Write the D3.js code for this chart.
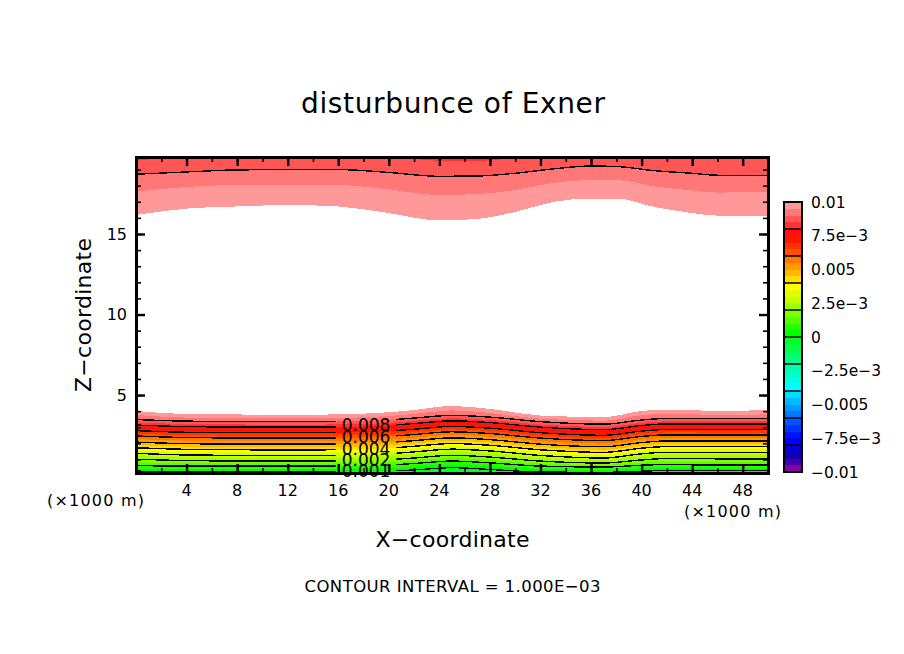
<!DOCTYPE html>
<html><head><meta charset="utf-8">
<script src="https://cdn.jsdelivr.net/npm/d3@7"></script>
<style>html,body{margin:0;padding:0;background:#fff}svg{display:block}text{font-family:"DejaVu Sans",sans-serif;fill:#000}</style>
</head><body><div id="c"></div><script>
const title="disturbunce of Exner", xTitle="X\u2212coordinate", zTitle="Z\u2212coordinate", footer="CONTOUR INTERVAL = 1.000E\u221203", unit="(\u00d71000 m)";
const xTicks=[4,8,12,16,20,24,28,32,36,40,44,48];
const xMinor=d3.range(2,50,2);
const zTicks=[5,10,15];
const zMinor=d3.range(1,20);
const barTickValues=[0.01,0.0075,0.005,0.0025,0,-0.0025,-0.005,-0.0075,-0.01];
const barTickLabels=["0.01","7.5e\u22123","0.005","2.5e\u22123","0","\u22122.5e\u22123","\u22120.005","\u22127.5e\u22123","\u22120.01"];
const barColors=["#ff9999","#ff7777","#ff5555","#ff3333","#ff1111","#ff1500","#ff3300","#ff5000","#ff7700","#ff9900","#ffbb00","#ffdd00","#ffff00","#ddff00","#c4ff00","#a0ff00","#80ff00","#55ff00","#2aff00","#00ff00","#00ff22","#00ff44","#00ff66","#00ff88","#00ffaa","#00ffc8","#00ffe4","#00ffff","#00ddff","#00bbff","#0099ff","#0077ff","#0055ff","#0033ff","#0015ff","#0000ff","#0000dd","#1100b0","#4400aa","#8800aa"];

// lower layer: height of each Exner level at these x stations
const lowX=[0,4,9,15,19,22,25,28,32,37,40,42,46,50];
const L100=[4.01,3.82,3.79,3.79,3.88,4.07,4.32,4.14,3.73,3.63,4.01,4.10,4.01,4.07];
const L095=[3.76,3.60,3.57,3.57,3.65,3.83,4.05,3.88,3.53,3.41,3.75,3.85,3.76,3.80];
const L090=[3.48,3.38,3.35,3.35,3.41,3.57,3.74,3.63,3.35,3.19,3.45,3.55,3.54,3.54];
const L085=[3.30,3.20,3.17,3.17,3.23,3.39,3.56,3.45,3.17,3.01,3.27,3.37,3.36,3.36];
const L080=[3.14,3.04,3.01,3.01,3.07,3.23,3.40,3.29,3.01,2.85,3.11,3.21,3.20,3.20];
const L075=[2.96,2.86,2.83,2.83,2.89,3.05,3.22,3.11,2.83,2.67,2.93,3.03,3.02,3.02];
const L070=[2.79,2.69,2.66,2.66,2.72,2.88,3.05,2.94,2.66,2.50,2.76,2.86,2.85,2.85];
const L065=[2.61,2.51,2.48,2.48,2.54,2.70,2.87,2.76,2.48,2.32,2.58,2.68,2.67,2.67];
const L060=[2.46,2.36,2.33,2.33,2.39,2.55,2.72,2.61,2.33,2.17,2.43,2.53,2.52,2.52];
const L055=[2.27,2.17,2.14,2.14,2.20,2.36,2.53,2.42,2.14,1.98,2.24,2.34,2.33,2.33];
const L050=[2.08,1.98,1.95,1.95,2.01,2.17,2.34,2.23,1.95,1.79,2.05,2.15,2.14,2.14];
const L045=[1.90,1.80,1.77,1.77,1.83,1.99,2.16,2.05,1.77,1.61,1.87,1.97,1.96,1.96];
const L040=[1.73,1.63,1.60,1.60,1.66,1.82,1.99,1.88,1.60,1.44,1.70,1.80,1.79,1.79];
const L035=[1.56,1.46,1.43,1.43,1.49,1.65,1.82,1.71,1.43,1.27,1.53,1.63,1.62,1.62];
const L030=[1.38,1.28,1.25,1.25,1.31,1.47,1.64,1.53,1.25,1.09,1.35,1.45,1.44,1.44];
const L025=[1.22,1.12,1.09,1.09,1.15,1.29,1.46,1.35,1.09,.95,1.19,1.27,1.26,1.26];
const L020=[1.02,.93,.90,.90,.95,1.09,1.26,1.15,.90,.78,.97,1.06,1.04,1.04];
const L015=[.83,.76,.75,.75,.79,.92,1.08,.97,.75,.66,.80,.87,.84,.84];
const L010=[.62,.59,.59,.59,.62,.75,.90,.79,.59,.53,.64,.69,.65,.65];
const L005=[.44,.40,.40,.40,.43,.55,.69,.58,.40,.36,.45,.50,.49,.49];
const L000=[.28,.22,.22,.22,.25,.35,.49,.38,.22,.20,.27,.32,.31,.31];
const lowerLevels=[L100,L095,L090,L085,L080,L075,L070,L065,L060,L055,L050,L045,L040,L035,L030,L025,L020,L015,L010,L005,L000];
const lowerContourIdx=[2,4,6,8,10,12,14,16,18,20];

// upper layer
const topX=[0,4.5,8,12,16,20,24,27,30,33,36,38,41,44,46,50];
const T100=[16.18,16.61,16.71,16.80,16.71,16.30,15.84,15.93,16.37,16.99,17.20,17.20,16.68,16.30,16.14,16.14];
const T095=[17.63,17.94,18.04,18.04,18.04,17.76,17.42,17.48,17.73,18.17,18.35,18.35,17.95,17.70,17.57,17.63];
const T090=[18.71,18.87,18.98,19.0,19.0,18.82,18.58,18.60,18.77,19.04,19.22,19.19,18.93,18.77,18.65,18.65];
const T085=[19.60,19.72,19.85,19.91,19.91,19.85,19.53,19.53,19.72,19.91,19.91,19.91,19.91,19.85,19.72,19.66];
const upperLevels=[T100,T095,T090,T085];

const contourLabels=["0.008","0.006","0.004","0.002","0.001"];
const contourLabelZ=[3.14,2.39,1.64,0.95,0.32];

const W=904,H=654;
const svg=d3.select("#c").append("svg").attr("width",W).attr("height",H);
const x=d3.scaleLinear().domain([0,50]).range([136,768]);
const z=d3.scaleLinear().domain([0.16,19.78]).range([473,157]);
const barY=d3.scaleLinear().domain([-0.01,0.01]).range([472,202]);

const defs=svg.append("defs");
defs.append("clipPath").attr("id","plot").append("rect").attr("x",x(0)).attr("y",z(19.78)).attr("width",x(50)-x(0)).attr("height",z(0.16)-z(19.78));
const gap=defs.append("clipPath").attr("id","gap");
gap.append("rect").attr("x",x(0)).attr("y",150).attr("width",x(15.8)-x(0)).attr("height",330);
gap.append("rect").attr("x",x(20.6)).attr("y",150).attr("width",x(50)-x(20.6)).attr("height",330);

const gBands=svg.append("g").attr("clip-path","url(#plot)").attr("shape-rendering","crispEdges");
// lower: painter's order, each level fills everything beneath it
const lowerArea=d3.area().x((d,i)=>x(lowX[i])).y0(z(0.16)).y1(d=>z(d)).curve(d3.curveMonotoneX);
gBands.selectAll("path.low").data(lowerLevels).join("path").attr("class","low")
  .attr("d",d=>lowerArea(d)).attr("fill",(d,i)=>barColors[i]);
// upper: each level fills everything above it
const upperArea=d3.area().x((d,i)=>x(topX[i])).y0(z(19.78)).y1(d=>z(d)).curve(d3.curveMonotoneX);
gBands.selectAll("path.up").data(upperLevels).join("path").attr("class","up")
  .attr("d",d=>upperArea(d)).attr("fill",(d,i)=>barColors[i]);

// contour lines
const gLines=svg.append("g").attr("clip-path","url(#plot)");
const gLow=gLines.append("g").attr("clip-path","url(#gap)");
const lowerLine=d3.line().x((d,i)=>x(lowX[i])).y(d=>z(d)).curve(d3.curveMonotoneX);
gLow.selectAll("path").data(lowerContourIdx.map(i=>lowerLevels[i])).join("path")
  .attr("d",lowerLine).attr("fill","none").attr("stroke","#000").attr("stroke-width",1.4).attr("shape-rendering","crispEdges");
const topLine=d3.line().x((d,i)=>x(topX[i])).y(d=>z(d)).curve(d3.curveMonotoneX);
gLines.append("path").datum(T090).attr("d",topLine).attr("fill","none").attr("stroke","#000").attr("stroke-width",1.4).attr("shape-rendering","crispEdges");

// contour labels
svg.append("g").selectAll("text").data(contourLabels).join("text")
  .attr("x",x(18.2)).attr("y",(d,i)=>z(contourLabelZ[i])).attr("dy","0.36em").attr("text-anchor","middle")
  .style("font-size","17px").text(d=>d);

// axes
function frameAxis(axis,tx,ty,vals,size){
  const g=svg.append("g").attr("transform",`translate(${tx},${ty})`).call(axis.tickValues(vals).tickSize(size).tickFormat(""));
  g.select(".domain").attr("stroke","#000").attr("stroke-width",3);
  g.selectAll(".tick line").attr("stroke","#000").attr("stroke-width",size<-6?2.4:1.6);
  return g;
}
const M=9,m=5;
frameAxis(d3.axisBottom(x),0,z(0.16),xMinor,-m);
frameAxis(d3.axisBottom(x),0,z(0.16),xTicks,-M);
frameAxis(d3.axisTop(x),0,z(19.78),xMinor,-m);
frameAxis(d3.axisTop(x),0,z(19.78),xTicks,-M);
frameAxis(d3.axisLeft(z),x(0),0,zMinor,-m);
frameAxis(d3.axisLeft(z),x(0),0,zTicks,-M);
frameAxis(d3.axisRight(z),x(50),0,zMinor,-m);
frameAxis(d3.axisRight(z),x(50),0,zTicks,-M);

// tick labels
svg.append("g").selectAll("text").data(xTicks).join("text").attr("x",d=>x(d)).attr("y",490).attr("dy","0.36em")
  .attr("text-anchor","middle").style("font-size","16px").text(d=>d);
svg.append("g").selectAll("text").data(zTicks).join("text").attr("x",127).attr("y",d=>z(d)).attr("dy","0.36em")
  .attr("text-anchor","end").style("font-size","16px").text(d=>d);

// texts
svg.append("text").attr("x",453).attr("y",103).attr("dy","0.36em").attr("text-anchor","middle").attr("textLength",304).style("font-size","28px").text(title);
svg.append("text").attr("x",452.5).attr("y",539).attr("dy","0.36em").attr("text-anchor","middle").attr("textLength",154).style("font-size","22px").text(xTitle);
svg.append("text").attr("transform","translate(83,315) rotate(-90)").attr("dy","0.36em").attr("text-anchor","middle").attr("textLength",154).style("font-size","22px").text(zTitle);
svg.append("text").attr("x",452.5).attr("y",586).attr("dy","0.36em").attr("text-anchor","middle").attr("textLength",296).style("font-size","16.5px").text(footer);
svg.append("text").attr("x",95.5).attr("y",500).attr("dy","0.36em").attr("text-anchor","middle").attr("textLength",97).style("font-size","16px").text(unit);
svg.append("text").attr("x",732.5).attr("y",511).attr("dy","0.36em").attr("text-anchor","middle").attr("textLength",97).style("font-size","16px").text(unit);

// colour bar
const barStep=0.0005;
const gBar=svg.append("g");
gBar.selectAll("rect").data(barColors).join("rect").attr("x",784).attr("width",18)
  .attr("y",(d,i)=>barY(0.01-i*barStep)).attr("height",(d,i)=>barY(0.01-(i+1)*barStep)-barY(0.01-i*barStep))
  .attr("fill",d=>d).attr("shape-rendering","crispEdges");
gBar.selectAll("line").data(d3.range(-0.008,0.0081,0.002)).join("line").attr("x1",784).attr("x2",802)
  .attr("y1",d=>barY(d)).attr("y2",d=>barY(d)).attr("stroke","#000").attr("stroke-width",1.5);
gBar.append("rect").attr("x",784).attr("y",202).attr("width",18).attr("height",270).attr("fill","none").attr("stroke","#000").attr("stroke-width",2);
svg.append("g").selectAll("text").data(barTickValues).join("text").attr("x",811).attr("y",d=>barY(d)).attr("dy","0.36em")
  .style("font-size","15.5px").text((d,i)=>barTickLabels[i]);
</script></body></html>
